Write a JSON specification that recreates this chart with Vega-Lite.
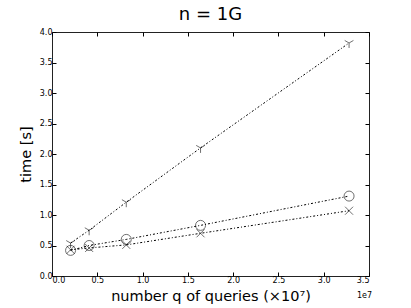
{
  "$schema": "https://vega.github.io/schema/vega-lite/v6.json",
  "width": 317,
  "height": 244,
  "autosize": "none",
  "padding": {"left": 52, "top": 32, "right": 42, "bottom": 32},
  "background": "white",
  "title": {"text": "n = 1G", "font": "DejaVu Sans", "fontSize": 18, "fontWeight": "normal", "color": "black", "offset": 4, "anchor": "middle"},
  "config": {
    "view": {"stroke": "#222", "strokeWidth": 1},
    "axis": {"labelFont": "DejaVu Sans", "titleFont": "DejaVu Sans", "labelColor": "black", "titleColor": "black", "labelFontSize": 8, "grid": false, "domain": false, "tickColor": "black", "tickSize": -4, "labelPadding": 4, "titleFontWeight": "normal", "titleFontSize": 14.5}
  },
  "data": {"values": [
    {"q": 2050000, "t": 0.54, "s": "a"},
    {"q": 4100000, "t": 0.75, "s": "a"},
    {"q": 8200000, "t": 1.21, "s": "a"},
    {"q": 16400000, "t": 2.10, "s": "a"},
    {"q": 32800000, "t": 3.82, "s": "a"},
    {"q": 2050000, "t": 0.42, "s": "b"},
    {"q": 4100000, "t": 0.50, "s": "b"},
    {"q": 8200000, "t": 0.60, "s": "b"},
    {"q": 16400000, "t": 0.83, "s": "b"},
    {"q": 32800000, "t": 1.31, "s": "b"},
    {"q": 2050000, "t": 0.43, "s": "c"},
    {"q": 4100000, "t": 0.46, "s": "c"},
    {"q": 8200000, "t": 0.51, "s": "c"},
    {"q": 16400000, "t": 0.70, "s": "c"},
    {"q": 32800000, "t": 1.07, "s": "c"}
  ]},
  "resolve": {"axis": {"x": "independent", "y": "independent"}},
  "layer": [
    {
      "mark": {"type": "line", "color": "black", "strokeWidth": 1, "strokeDash": [2, 2, 1, 2]},
      "encoding": {
        "x": {"field": "q", "type": "quantitative", "scale": {"domain": [0, 35000000], "nice": false}, "axis": {"orient": "bottom", "values": [0, 5000000, 10000000, 15000000, 20000000, 25000000, 30000000, 35000000], "labelExpr": "format(datum.value/1e7, '.1f')", "title": "number q of queries (×10⁷)", "titlePadding": 5}},
        "y": {"field": "t", "type": "quantitative", "scale": {"domain": [0, 4], "nice": false}, "axis": {"orient": "left", "values": [0, 0.5, 1, 1.5, 2, 2.5, 3, 3.5, 4], "format": ".1f", "title": "time [s]", "titlePadding": 6}},
        "detail": {"field": "s"}
      }
    },
    {
      "mark": {"type": "point", "filled": false, "color": "black", "strokeWidth": 0.8, "size": 100},
      "encoding": {
        "x": {"field": "q", "type": "quantitative", "axis": {"orient": "top", "labels": false, "title": null, "values": [0, 5000000, 10000000, 15000000, 20000000, 25000000, 30000000, 35000000]}},
        "y": {"field": "t", "type": "quantitative", "axis": {"orient": "right", "labels": false, "title": null, "values": [0, 0.5, 1, 1.5, 2, 2.5, 3, 3.5, 4]}},
        "shape": {"field": "s", "type": "nominal", "legend": null, "scale": {"domain": ["a", "b", "c"], "range": ["M0,0L0,1M0,0L-0.87,-0.5M0,0L0.87,-0.5", "circle", "M-0.8,-0.8L0.8,0.8M-0.8,0.8L0.8,-0.8"]}}
      }
    },
    {
      "data": {"values": [{"q": 35000000, "t": 0, "label": "1e7"}]},
      "mark": {"type": "text", "font": "DejaVu Sans", "fontSize": 8, "color": "black", "align": "right", "dy": 20, "dx": 3},
      "encoding": {
        "x": {"field": "q", "type": "quantitative", "axis": null},
        "y": {"field": "t", "type": "quantitative", "axis": null},
        "text": {"field": "label"}
      }
    }
  ]
}
